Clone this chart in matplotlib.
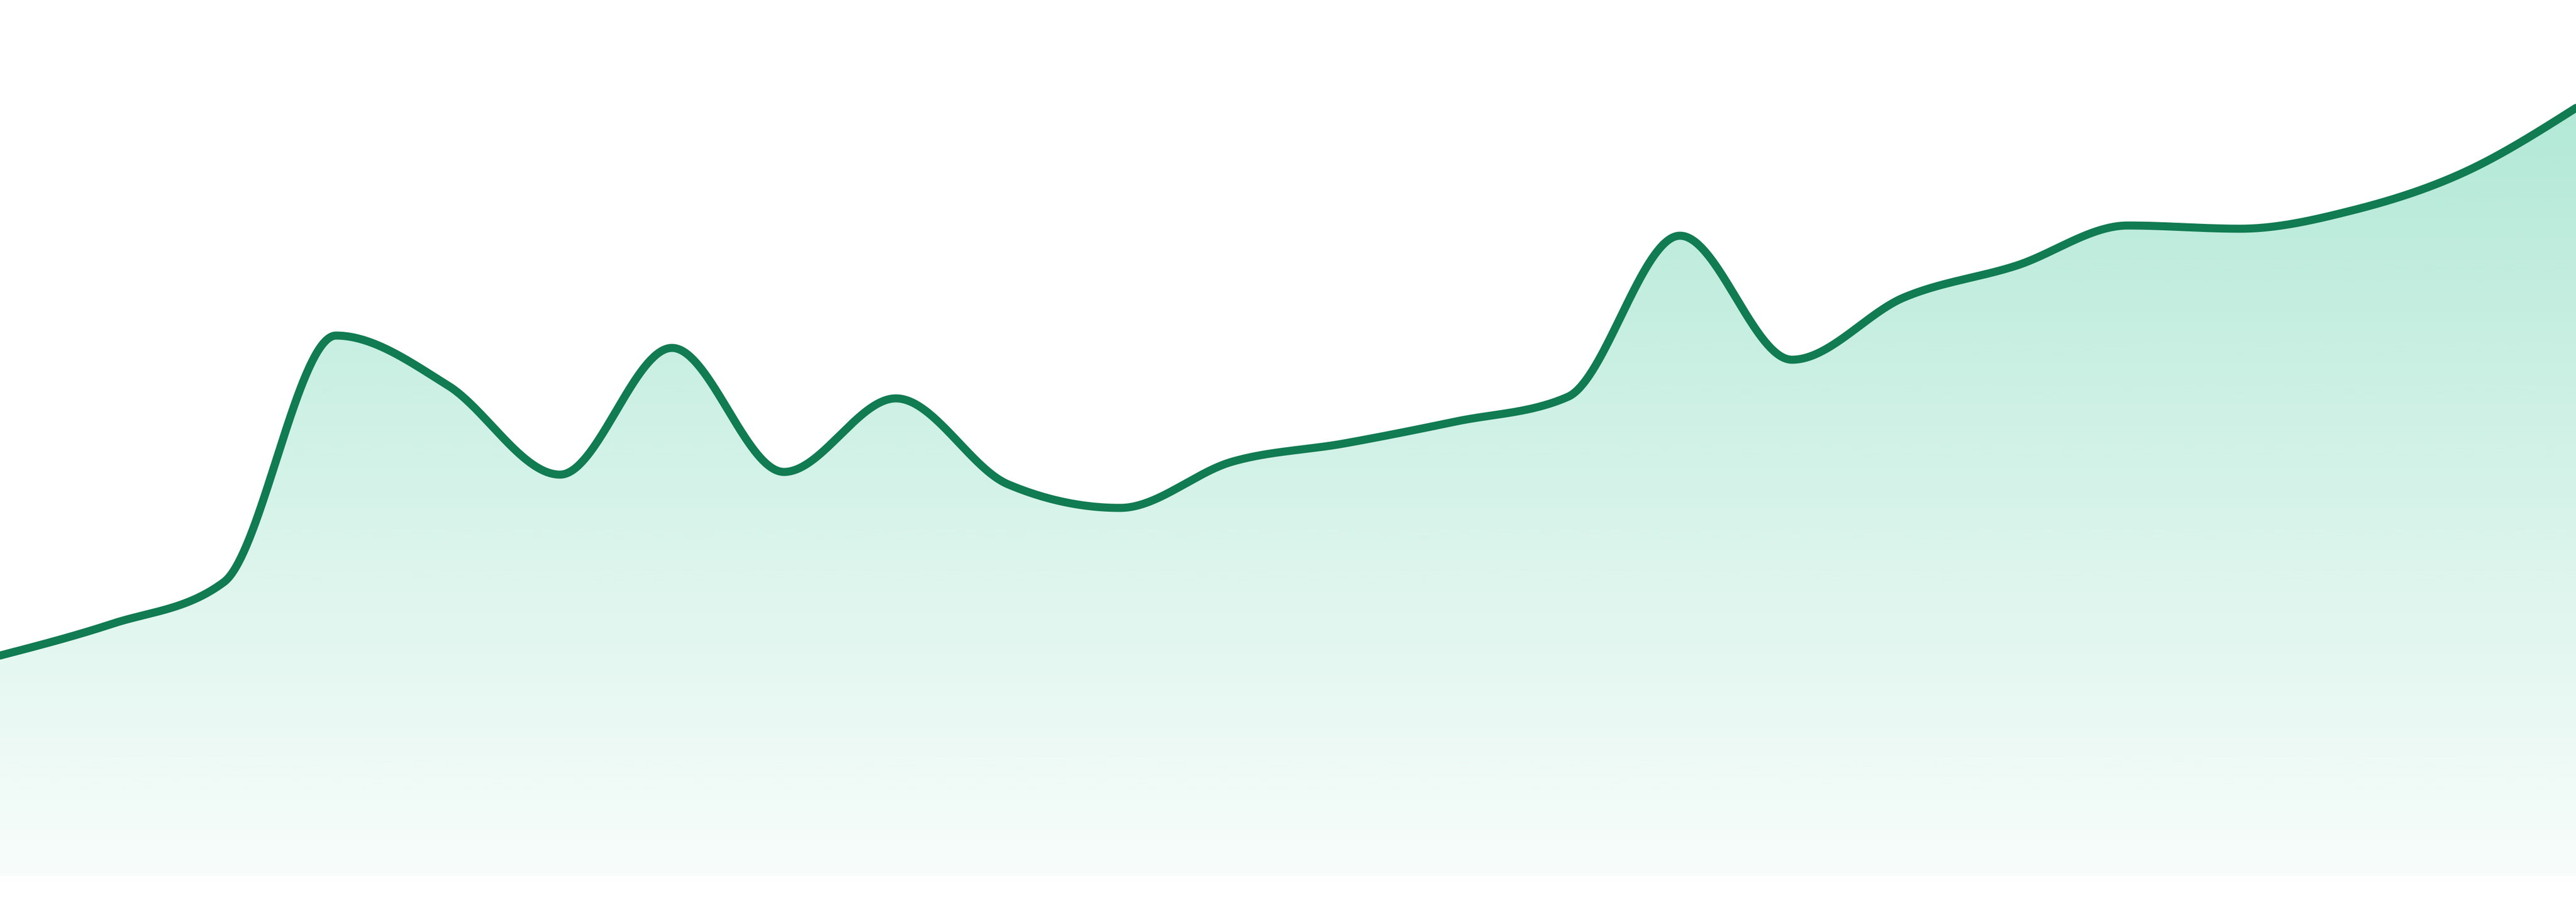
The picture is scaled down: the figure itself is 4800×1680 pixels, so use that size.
import numpy as np
import matplotlib
matplotlib.use("Agg")
import matplotlib.pyplot as plt
from matplotlib.path import Path
from matplotlib.patches import PathPatch

# ---- data ----
periods = list(range(24))
values = [41.1, 47.0, 54.8, 100.7, 91.4, 74.8, 98.4, 75.3, 89.0, 73.0, 68.6, 77.2,
          80.6, 84.7, 89.3, 119.3, 96.2, 107.8, 113.7, 121.2, 120.6, 124.0, 131.1, 143.1]

line_color = "#117B52"
fill_rgb = (16 / 255, 185 / 255, 129 / 255)
alpha_top, alpha_bottom = 0.32, 0.03


def monotone_x(x, y, n=80):
    """d3.curveMonotoneX style interpolation."""
    x = np.asarray(x, float)
    y = np.asarray(y, float)
    h = np.diff(x)
    s = np.diff(y) / h
    m = np.zeros_like(y)
    for i in range(1, len(x) - 1):
        p = (s[i - 1] * h[i] + s[i] * h[i - 1]) / (h[i - 1] + h[i])
        m[i] = (np.sign(s[i - 1]) + np.sign(s[i])) * min(abs(s[i - 1]), abs(s[i]), 0.5 * abs(p))
    m[0] = (3 * s[0] - m[1]) / 2
    m[-1] = (3 * s[-1] - m[-2]) / 2
    xs, ys = [], []
    t = np.linspace(0, 1, n)
    for i in range(len(x) - 1):
        h00 = 2 * t**3 - 3 * t**2 + 1
        h10 = t**3 - 2 * t**2 + t
        h01 = -2 * t**3 + 3 * t**2
        h11 = t**3 - t**2
        xi = x[i] + t * h[i]
        yi = h00 * y[i] + h10 * h[i] * m[i] + h01 * y[i + 1] + h11 * h[i] * m[i + 1]
        if i > 0:
            xi, yi = xi[1:], yi[1:]
        xs.append(xi)
        ys.append(yi)
    return np.concatenate(xs), np.concatenate(ys)


fig = plt.figure(figsize=(16, 5.6), dpi=300)
ax = fig.add_axes([0, 0, 1, 1])
ax.set_axis_off()
ax.set_xlim(periods[0], periods[-1])
ax.set_ylim(-4.8, 163.2)

cx, cy = monotone_x(periods, values)
baseline = 0.0

# gradient fill clipped to the area
verts = np.vstack([np.column_stack([cx, cy]),
                   [[cx[-1], baseline], [cx[0], baseline], [cx[0], cy[0]]]])
codes = [Path.MOVETO] + [Path.LINETO] * (len(verts) - 2) + [Path.CLOSEPOLY]
area = PathPatch(Path(verts, codes), facecolor="none", edgecolor="none")
ax.add_patch(area)

ytop = cy.max()
grad = np.zeros((512, 1, 4))
grad[..., 0], grad[..., 1], grad[..., 2] = fill_rgb
grad[:, 0, 3] = np.linspace(alpha_top, alpha_bottom, 512)
im = ax.imshow(grad, extent=[periods[0], periods[-1], baseline, ytop],
               aspect="auto", origin="upper", interpolation="bilinear", zorder=1)
im.set_clip_path(area)

ax.plot(cx, cy, color=line_color, lw=3.6, solid_capstyle="round",
        solid_joinstyle="round", zorder=3, clip_on=False)

fig.savefig("out.png", dpi=300, facecolor="white")
